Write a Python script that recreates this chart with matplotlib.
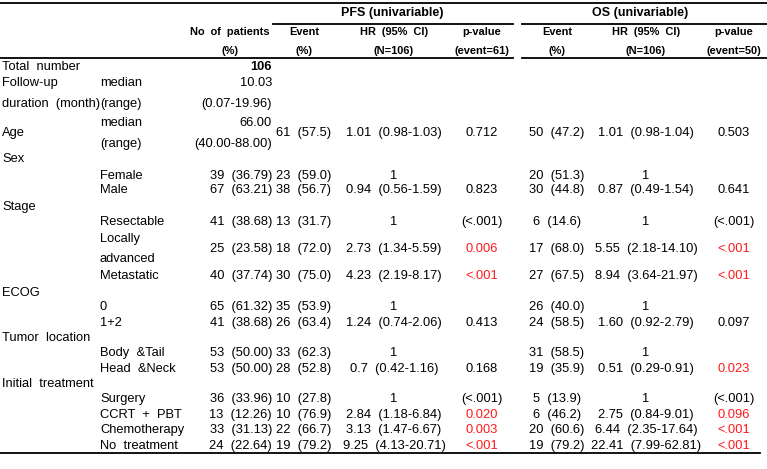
import matplotlib.pyplot as plt

plt.rcParams['font.family'] = ['Liberation Sans', 'DejaVu Sans']

# header texts
group_titles = ["PFS (univariable)", "OS (univariable)"]
head_top = ["No of patients", "Event", "HR (95% CI)", "p-value", "Event", "HR (95% CI)", "p-value"]
head_bot = ["(%)", "(%)", "(N=106)", "(event=61)", "(%)", "(N=106)", "(event=50)"]

# descriptive rows
total_n = "106"
fu_median, fu_range = "10.03", "(0.07-19.96)"
age_median, age_range = "66.00", "(40.00-88.00)"

# variable headings
variables = ["Sex", "Stage", "ECOG", "Tumor location", "Initial treatment"]

# data rows (first row is Age, continuous)
subgroups = ["", "Female", "Male", "Resectable", "Locally advanced", "Metastatic",
             "0", "1+2", "Body &Tail", "Head &Neck",
             "Surgery", "CCRT + PBT", "Chemotherapy", "No treatment"]
n_pct = ["", "39 (36.79)", "67 (63.21)", "41 (38.68)", "25 (23.58)", "40 (37.74)",
         "65 (61.32)", "41 (38.68)", "53 (50.00)", "53 (50.00)",
         "36 (33.96)", "13 (12.26)", "33 (31.13)", "24 (22.64)"]
pfs_event = ["61 (57.5)", "23 (59.0)", "38 (56.7)", "13 (31.7)", "18 (72.0)", "30 (75.0)",
             "35 (53.9)", "26 (63.4)", "33 (62.3)", "28 (52.8)",
             "10 (27.8)", "10 (76.9)", "22 (66.7)", "19 (79.2)"]
pfs_hr = ["1.01 (0.98-1.03)", "1", "0.94 (0.56-1.59)", "1", "2.73 (1.34-5.59)", "4.23 (2.19-8.17)",
          "1", "1.24 (0.74-2.06)", "1", "0.7 (0.42-1.16)",
          "1", "2.84 (1.18-6.84)", "3.13 (1.47-6.67)", "9.25 (4.13-20.71)"]
pfs_p = ["0.712", "", "0.823", "(<.001)", "0.006", "<.001",
         "", "0.413", "", "0.168",
         "(<.001)", "0.020", "0.003", "<.001"]
pfs_red = [0, 0, 0, 0, 1, 1, 0, 0, 0, 0, 0, 1, 1, 1]
os_event = ["50 (47.2)", "20 (51.3)", "30 (44.8)", "6 (14.6)", "17 (68.0)", "27 (67.5)",
            "26 (40.0)", "24 (58.5)", "31 (58.5)", "19 (35.9)",
            "5 (13.9)", "6 (46.2)", "20 (60.6)", "19 (79.2)"]
os_hr = ["1.01 (0.98-1.04)", "1", "0.87 (0.49-1.54)", "1", "5.55 (2.18-14.10)", "8.94 (3.64-21.97)",
         "1", "1.60 (0.92-2.79)", "1", "0.51 (0.29-0.91)",
         "1", "2.75 (0.84-9.01)", "6.44 (2.35-17.64)", "22.41 (7.99-62.81)"]
os_p = ["0.503", "", "0.641", "(<.001)", "<.001", "<.001",
        "", "0.097", "", "0.023",
        "(<.001)", "0.096", "<.001", "<.001"]
os_red = [0, 0, 0, 0, 1, 1, 0, 0, 0, 1, 0, 1, 1, 1]

# layout (pixels)
row_y = [133, 176, 190, 222, 249, 276, 307, 323, 353, 369, 399, 415, 430, 446]
var_y = [159, 207, 293, 338, 384]
col_x = [230, 304, 394, 482, 557, 646, 734]
x_lab, x_sub, x_n = 2, 100, 272
fs = 9.3
hfs = 7.9

fig = plt.figure(figsize=(7.67, 4.69), dpi=100)
ax = fig.add_axes([0, 0, 1, 1])
ax.set_xlim(0, 767)
ax.set_ylim(469, 0)
ax.axis('off')

# rules
lw = 1.3
ax.plot([0, 767], [3, 3], color='black', lw=lw)
ax.plot([273, 513], [24, 24], color='black', lw=lw)
ax.plot([522, 767], [24, 24], color='black', lw=lw)
ax.plot([0, 513], [58, 58], color='black', lw=lw)
ax.plot([522, 767], [58, 58], color='black', lw=lw)
ax.plot([0, 760], [453, 453], color='black', lw=lw)

# header
ax.text(392, 13, group_titles[0], ha='center', va='center', fontsize=9, fontweight='bold')
ax.text(640, 13, group_titles[1], ha='center', va='center', fontsize=9, fontweight='bold')
for x, t, b in zip(col_x, head_top, head_bot):
    ax.text(x, 32, t.replace(" ", "  "), ha='center', va='center', fontsize=hfs, fontweight='bold')
    ax.text(x, 51, b, ha='center', va='center', fontsize=hfs, fontweight='bold')

# descriptive
ax.text(x_lab, 67, "Total  number", ha='left', va='center', fontsize=fs)
ax.text(x_n, 67, total_n, ha='right', va='center', fontsize=fs, fontweight='bold')
ax.text(x_lab, 83, "Follow-up", ha='left', va='center', fontsize=fs)
ax.text(x_sub, 83, "median", ha='left', va='center', fontsize=fs)
ax.text(x_n, 83, fu_median, ha='right', va='center', fontsize=fs)
ax.text(x_lab, 104, "duration  (month)", ha='left', va='center', fontsize=fs)
ax.text(x_sub, 104, "(range)", ha='left', va='center', fontsize=fs)
ax.text(x_n, 104, fu_range, ha='right', va='center', fontsize=fs)
ax.text(x_sub, 123, "median", ha='left', va='center', fontsize=fs)
ax.text(x_n, 123, age_median, ha='right', va='center', fontsize=fs)
ax.text(x_lab, 133, "Age", ha='left', va='center', fontsize=fs)
ax.text(x_sub, 144, "(range)", ha='left', va='center', fontsize=fs)
ax.text(x_n, 144, age_range, ha='right', va='center', fontsize=fs)

for v, y in zip(variables, var_y):
    ax.text(x_lab, y, v.replace(" ", "  "), ha='left', va='center', fontsize=fs)

for i, y in enumerate(row_y):
    sub = subgroups[i]
    if sub == "Locally advanced":
        ax.text(x_sub, y - 10, "Locally", ha='left', va='center', fontsize=fs)
        ax.text(x_sub, y + 10, "advanced", ha='left', va='center', fontsize=fs)
    else:
        ax.text(x_sub, y, sub.replace(" ", "  "), ha='left', va='center', fontsize=fs)
    ax.text(x_n, y, n_pct[i].replace(" ", "  "), ha='right', va='center', fontsize=fs)
    ax.text(col_x[1], y, pfs_event[i].replace(" ", "  "), ha='center', va='center', fontsize=fs)
    ax.text(col_x[2], y, pfs_hr[i].replace(" ", "  "), ha='center', va='center', fontsize=fs)
    ax.text(col_x[3], y, pfs_p[i], ha='center', va='center', fontsize=fs,
            color='#ff1a1a' if pfs_red[i] else 'black')
    ax.text(col_x[4], y, os_event[i].replace(" ", "  "), ha='center', va='center', fontsize=fs)
    ax.text(col_x[5], y, os_hr[i].replace(" ", "  "), ha='center', va='center', fontsize=fs)
    ax.text(col_x[6], y, os_p[i], ha='center', va='center', fontsize=fs,
            color='#ff1a1a' if os_red[i] else 'black')

fig.savefig('out.png', dpi=100)
